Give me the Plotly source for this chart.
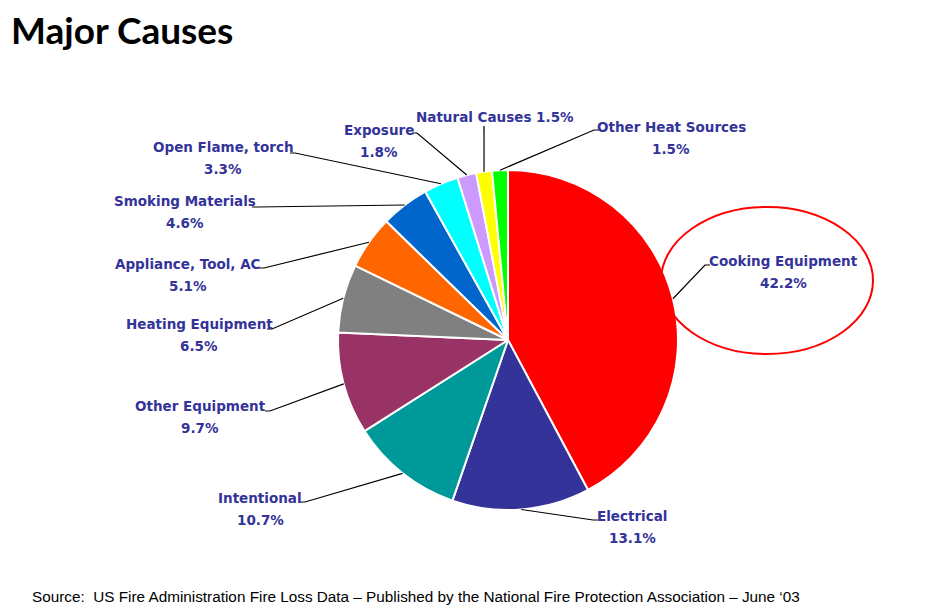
import math
import plotly.graph_objects as go

# ---- data ----
categories = ["Cooking Equipment", "Electrical", "Intentional", "Other Equipment",
              "Heating Equipment", "Appliance, Tool, AC", "Smoking Materials",
              "Open Flame, torch", "Exposure", "Natural Causes", "Other Heat Sources"]
values = [42.2, 13.1, 10.7, 9.7, 6.5, 5.1, 4.6, 3.3, 1.8, 1.5, 1.5]
colors = ["#FF0000", "#333399", "#009999", "#993366", "#808080", "#FF6600",
          "#0066CC", "#00FFFF", "#CC99FF", "#FFFF00", "#00FF00"]

# ---- layout/style (pixels) ----
W, H = 940, 610
CX, CY, R = 508, 340, 170
LINE_GAP = 22
# label text centre (x, y of first line), leader end point, side
label_pos = [
    (783, 261, 705, 265, "r"),
    (632, 516, 593, 520, "r"),
    (260, 498, 305, 502, "l"),
    (200, 406, 270, 411, "l"),
    (199, 324, 272, 329, "l"),
    (188, 264, 264, 268, "l"),
    (185, 201, 257, 207, "l"),
    (223, 147, 295, 153, "l"),
    (379, 130, 417, 133, "l"),
    (495, 117, 484, 126, "single"),
    (671, 127, 594, 130, "r"),
]
LABEL_COLOR = "#333399"
LABEL_FONT = dict(family="DejaVu Sans", size=13.5, color=LABEL_COLOR, weight="bold")


def px(x):
    return x / W


def py(y):
    return 1 - y / H


fig = go.Figure()
fig.add_trace(go.Pie(
    labels=categories, values=values, sort=False, direction="clockwise",
    rotation=0, marker=dict(colors=colors, line=dict(color="white", width=2)),
    textinfo="none", hoverinfo="label+percent", showlegend=False,
    domain=dict(x=[px(CX - R), px(CX + R)], y=[py(CY + R), py(CY - R)]),
))

annotations = []
shapes = []
total = sum(values)
cum = 0.0


def add_text(text, x, y):
    annotations.append(dict(x=px(x), y=py(y), xref="paper", yref="paper",
                            text=text, showarrow=False, xanchor="center",
                            yanchor="middle", align="center", font=LABEL_FONT))


for cat, v, (tx, ty, ex, ey, side) in zip(categories, values, label_pos):
    mid = (cum + v / 2) / total * 2 * math.pi
    cum += v
    sx = CX + R * math.sin(mid)
    sy = CY - R * math.cos(mid)
    if side == "single":
        path = f"M {px(sx)} {py(sy)} L {px(ex)} {py(ey)}"
        add_text(f"{cat} {v}%", tx, ty)
    else:
        hx = ex + (5 if side == "r" else -5)
        path = f"M {px(sx)} {py(sy)} L {px(ex)} {py(ey)} L {px(hx)} {py(ey)}"
        add_text(cat, tx, ty)
        add_text(f"{v}%", tx, ty + LINE_GAP)
    shapes.append(dict(type="path", xref="paper", yref="paper", path=path,
                       line=dict(color="black", width=1.2)))

# highlight ellipse around Cooking Equipment
shapes.append(dict(type="circle", xref="paper", yref="paper",
                   x0=px(661), x1=px(873), y0=py(354), y1=py(207),
                   line=dict(color="#FF0000", width=2)))

annotations.append(dict(x=px(9), y=py(5), xref="paper", yref="paper",
                        text="Major Causes", showarrow=False, xanchor="left",
                        yanchor="top",
                        font=dict(family="Lato", size=37, color="black", weight="bold")))
annotations.append(dict(x=px(30), y=py(596), xref="paper", yref="paper",
                        text="Source:  US Fire Administration Fire Loss Data \u2013 Published by the National Fire Protection Association \u2013 June \u201803",
                        showarrow=False, xanchor="left", yanchor="middle",
                        font=dict(family="Liberation Sans Narrow, Liberation Sans", size=15.3, color="black")))

fig.update_layout(width=W, height=H, margin=dict(l=0, r=0, t=0, b=0),
                  paper_bgcolor="white", plot_bgcolor="white",
                  shapes=shapes, annotations=annotations)
fig.write_html("out.html", post_script="document.body.style.margin='0';",
               config={"displayModeBar": False})
